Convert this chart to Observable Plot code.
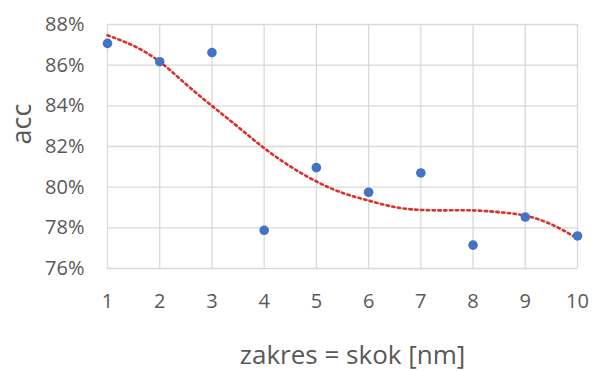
<!DOCTYPE html>
<html>
<head>
<meta charset="utf-8">
<script src="https://cdn.jsdelivr.net/npm/d3@7"></script>
<script src="https://cdn.jsdelivr.net/npm/@observablehq/plot@0.6"></script>
<style>
  html, body { margin: 0; padding: 0; background: #fff; }
  #chart { width: 592px; height: 371px; }
</style>
</head>
<body>
<div id="chart"></div>
<script>
// Measured points
const steps = [1, 2, 3, 4, 5, 6, 7, 8, 9, 10];
const acc = [87.07, 86.17, 86.62, 77.88, 80.96, 79.75, 80.70, 77.15, 78.53, 77.60];

// Trendline
const trendX = [1, 1.5, 2, 2.5, 3, 3.5, 4, 4.5, 5, 5.5, 6, 6.5, 7, 7.5, 8, 8.5, 9, 9.5, 10];
const trendY = [87.47, 86.95, 86.17, 85.07, 84.0, 82.96, 81.92, 81.02, 80.28, 79.72, 79.34, 79.02, 78.88, 78.86, 78.86, 78.77, 78.6, 78.17, 77.48];

const yTicks = [76, 78, 80, 82, 84, 86, 88];
const xTicks = [1, 2, 3, 4, 5, 6, 7, 8, 9, 10];
const xTitle = "zakres = skok [nm]";
const yTitle = "acc";

const points = steps.map((s, i) => ({x: s, y: acc[i]}));
const trend = trendX.map((s, i) => ({x: s, y: trendY[i]}));

const font = "'Open Sans', 'Noto Sans', sans-serif";
const textColor = "#595959";
const gridColor = "#d9d9d9";

const chart = Plot.plot({
  width: 592,
  height: 371,
  marginLeft: 107,
  marginRight: 15,
  marginTop: 24,
  marginBottom: 103,
  style: {fontFamily: font, background: "#fff"},
  x: {domain: [1, 10]},
  y: {domain: [76, 88]},
  marks: [
    Plot.gridX(xTicks, {stroke: gridColor, strokeOpacity: 1, strokeWidth: 1.3}),
    Plot.gridY(yTicks, {stroke: gridColor, strokeOpacity: 1, strokeWidth: 1.3}),
    Plot.axisX(xTicks, {tickSize: 0, tickPadding: 25, fontSize: 20, fill: textColor, label: null, tickFormat: d => String(d)}),
    Plot.axisY(yTicks, {tickSize: 0, tickPadding: 23, fontSize: 20, fill: textColor, label: null, tickFormat: d => d + "%"}),
    Plot.line(trend, {x: "x", y: "y", curve: "natural", stroke: "#d9302a", strokeWidth: 2.6, strokeDasharray: "2.4,3.4"}),
    Plot.dot(points, {x: "x", y: "y", r: 4.8, fill: "#4472c4", stroke: "none"}),
    Plot.text([xTitle], {frameAnchor: "bottom", dx: 10, dy: 87, text: d => d, fontSize: 26, fill: textColor, lineAnchor: "middle"}),
    Plot.text([yTitle], {frameAnchor: "left", dx: -85, dy: -2, rotate: -90, text: d => d, fontSize: 27, fill: textColor, lineAnchor: "middle"})
  ]
});
document.getElementById("chart").appendChild(chart);
</script>
</body>
</html>
